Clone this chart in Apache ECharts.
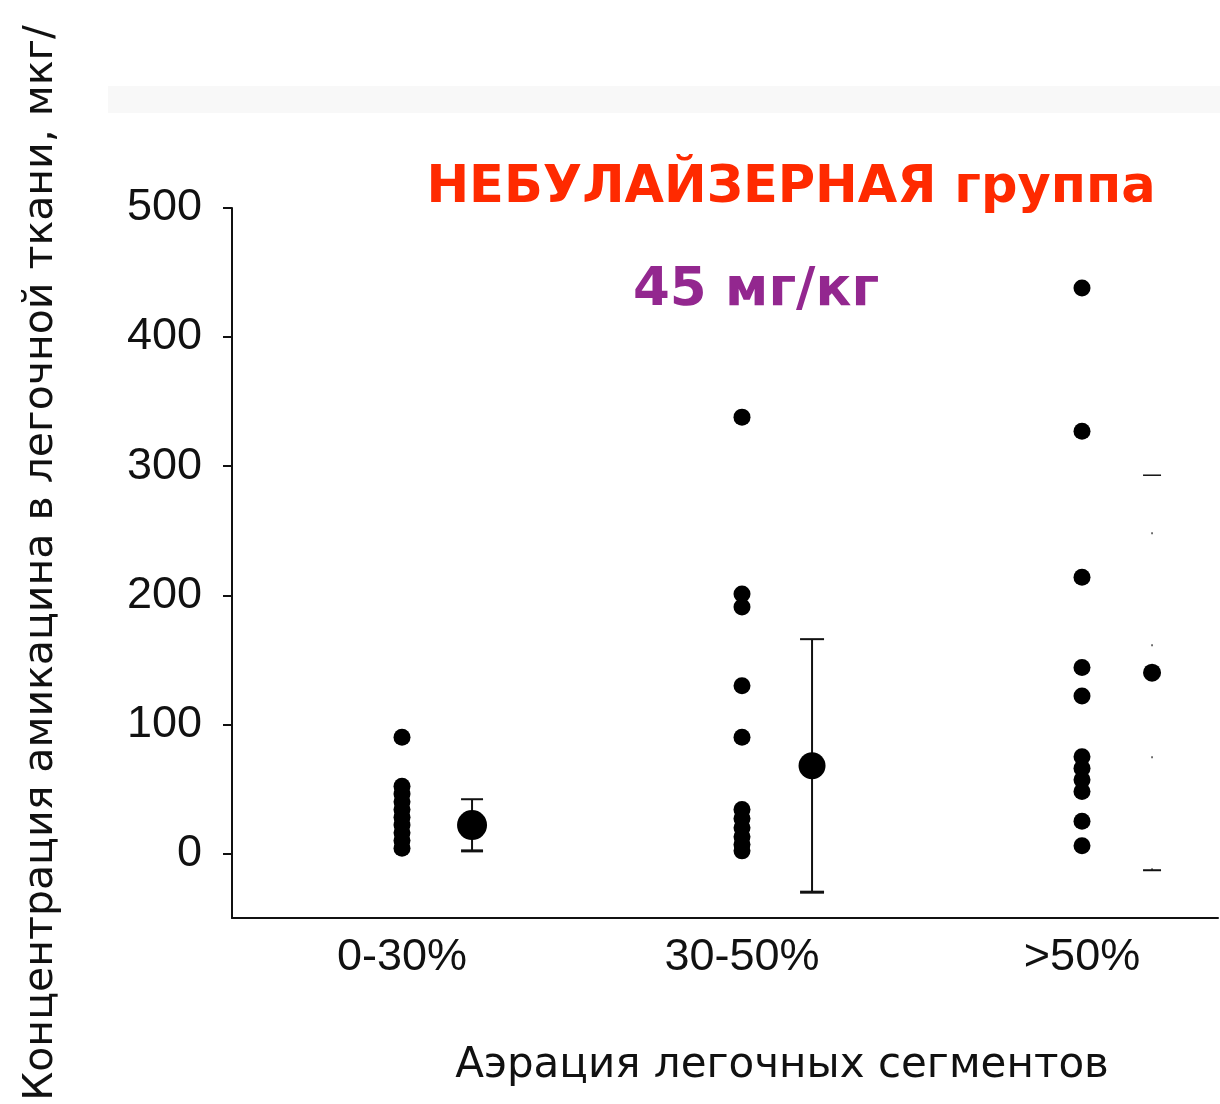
<!DOCTYPE html>
<html>
<head>
<meta charset="utf-8">
<script src="https://cdn.jsdelivr.net/npm/echarts@6/dist/echarts.min.js"></script>
<style>
  html, body { margin: 0; padding: 0; background: #fff; }
  #chart { width: 1220px; height: 1104px; }
</style>
</head>
<body>
<div id="chart"></div>
<script>
// Aeration groups along the x axis
const categories = ['0-30%', '30-50%', '>50%'];

// Individual tissue amikacin concentrations (µg/g) per group
const pointsLow = [90, 52, 46, 40, 34, 28, 22, 16, 10, 4];
const pointsMid = [338, 201, 191, 130, 90, 34, 27, 20, 13, 7, 2];
const pointsHigh = [438, 327, 214, 144, 122, 75, 66, 57, 48, 25, 6];

// Group mean and standard deviation
const groupMeans = [22, 68, 140];
const groupSD = [20, 98, 153];

// Y axis tick labels
const yTicks = [0, 100, 200, 300, 400, 500];

// Layout / style constants
const MEAN_OFFSET = 0.206;           // mean marker sits right of the raw points
const meanDotSizes = [30, 27, 18];
const capHalfWidths = [11, 12, 9];

const pointGroups = [pointsLow, pointsMid, pointsHigh];
const rawData = [];
pointGroups.forEach((vals, i) => vals.forEach(v => rawData.push([i + 1, v])));

const meanData = groupMeans.map((m, i) => ({
  value: [i + 1 + MEAN_OFFSET, m],
  symbolSize: meanDotSizes[i]
}));

const errData = groupMeans.map((m, i) => [i + 1 + MEAN_OFFSET, m - groupSD[i], m + groupSD[i], i]);

const chart = echarts.init(document.getElementById('chart'), null, { renderer: 'canvas' });

chart.setOption({
  backgroundColor: '#ffffff',
  animation: false,
  graphic: [{
    type: 'rect',
    shape: { x: 108, y: 86, width: 1112, height: 27 },
    style: { fill: '#f8f8f8' },
    silent: true,
    z: -10
  }],
  title: [{
    text: 'НЕБУЛАЙЗЕРНАЯ группа',
    left: 786, top: 158, textAlign: 'center',
    textStyle: { fontFamily: 'DejaVu Sans', fontWeight: 'bold', fontSize: 51, color: '#ff2a00' }
  }, {
    text: '45 мг/кг',
    left: 751, top: 260, textAlign: 'center',
    textStyle: { fontFamily: 'DejaVu Sans', fontWeight: 'bold', fontSize: 53, color: '#93278f' }
  }],
  grid: { left: 232, right: 2, top: 208, bottom: 186, containLabel: false, outerBoundsMode: 'none' },
  xAxis: {
    type: 'value',
    min: 0.5, max: 3.4,
    name: 'Аэрация легочных сегментов',
    nameLocation: 'middle',
    nameGap: 127,
    nameTextStyle: { fontFamily: 'DejaVu Sans', fontSize: 42, color: '#111', padding: [0, 0, 0, 114] },
    axisLine: { show: true, onZero: false, lineStyle: { color: '#111', width: 2 } },
    axisTick: { show: false },
    splitLine: { show: false },
    axisLabel: {
      customValues: [1, 2, 3],
      formatter: v => categories[Math.round(v) - 1],
      fontFamily: 'Liberation Sans', fontSize: 45, color: '#111', margin: 17
    }
  },
  yAxis: {
    type: 'value',
    min: -50, max: 500,
    name: 'Концентрация амикацина в легочной ткани, мкг/',
    nameLocation: 'middle',
    nameRotate: 90,
    nameGap: 170,
    nameTextStyle: { fontFamily: 'DejaVu Sans', fontSize: 41, color: '#111' },
    axisLine: { show: true, onZero: false, lineStyle: { color: '#111', width: 2 } },
    axisTick: { show: true, customValues: yTicks, length: 9, lineStyle: { color: '#111', width: 2 } },
    splitLine: { show: false },
    axisLabel: {
      customValues: yTicks,
      fontFamily: 'Liberation Sans', fontSize: 45, color: '#111', margin: 30
    }
  },
  series: [{
    name: 'points',
    type: 'scatter',
    data: rawData,
    symbol: 'circle',
    symbolSize: 17,
    itemStyle: { color: '#000', opacity: 1 },
    z: 3
  }, {
    name: 'sd',
    type: 'custom',
    data: errData,
    renderItem: (params, api) => {
      const x = api.value(0);
      const lo = api.coord([x, api.value(1)]);
      const hi = api.coord([x, api.value(2)]);
      const idx = api.value(3);
      const hw = capHalfWidths[idx];
      const faded = idx === 2;
      const stroke = { stroke: '#111', lineWidth: faded ? 1.5 : 2 };
      return {
        type: 'group',
        children: [{
          type: 'line',
          shape: { x1: lo[0], y1: lo[1], x2: hi[0], y2: hi[1] },
          style: faded ? { stroke: '#444', lineWidth: 1.5, lineDash: [2, 110] } : stroke
        }, {
          type: 'line',
          shape: { x1: lo[0] - hw, y1: lo[1], x2: lo[0] + hw, y2: lo[1] },
          style: Object.assign({}, stroke, { lineWidth: faded ? 2 : 3 })
        }, {
          type: 'line',
          shape: { x1: hi[0] - hw, y1: hi[1], x2: hi[0] + hw, y2: hi[1] },
          style: stroke
        }]
      };
    },
    z: 2
  }, {
    name: 'mean',
    type: 'scatter',
    data: meanData,
    symbol: 'circle',
    itemStyle: { color: '#000', opacity: 1 },
    z: 4
  }]
});
</script>
</body>
</html>
